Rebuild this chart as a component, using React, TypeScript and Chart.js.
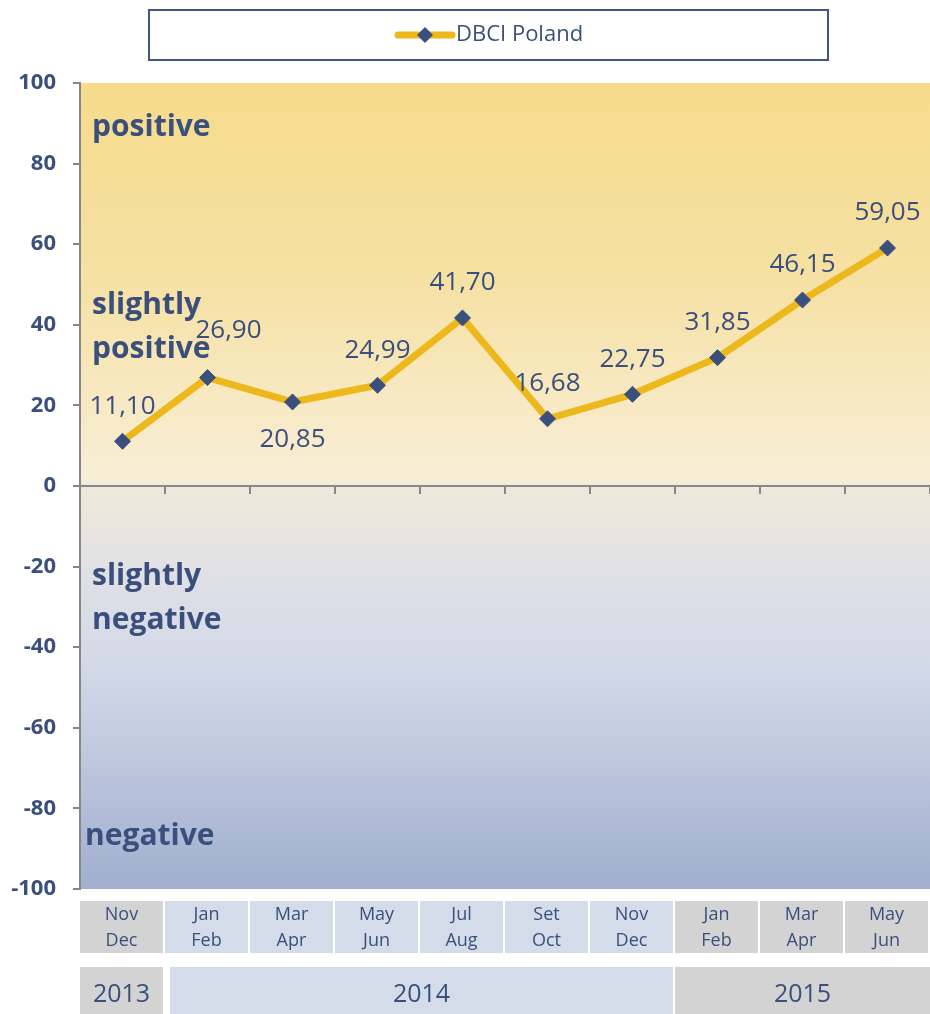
import React, { useEffect, useRef } from "react";
import { Chart, registerables } from "chart.js";

Chart.register(...registerables);

const SERIES_NAME = "DBCI Poland";
const MONTH_TOP = ["Nov", "Jan", "Mar", "May", "Jul", "Set", "Nov", "Jan", "Mar", "May"];
const MONTH_BOTTOM = ["Dec", "Feb", "Apr", "Jun", "Aug", "Oct", "Dec", "Feb", "Apr", "Jun"];
const CATEGORY_YEAR = ["2013", "2014", "2014", "2014", "2014", "2014", "2014", "2015", "2015", "2015"];
const YEARS = ["2013", "2014", "2015"];
const VALUES = [11.1, 26.9, 20.85, 24.99, 41.7, 16.68, 22.75, 31.85, 46.15, 59.05];
const Y_MIN = -100;
const Y_MAX = 100;
const Y_STEP = 20;
const ZONES = [
  { lines: ["positive"], at: 89 },
  { lines: ["slightly", "positive"], at: 39.3 },
  { lines: ["slightly", "negative"], at: -28 },
  { lines: ["negative"], at: -87 },
];

const NAVY = "#3b4f7d";
const YELLOW = "#edb81b";
const AXIS = "#878787";
const GREY_BOX = "#d3d3d4";
const BLUE_BOX = "#d4dbe9";
const FONT = "'Open Sans', 'Noto Sans', sans-serif";

const fmt = (v: number) => v.toFixed(2).replace(".", ",");

const decorPlugin = {
  id: "decor",
  beforeDraw(chart: any) {
    const { ctx, chartArea } = chart;
    const { left, right, top, bottom } = chartArea;
    const g = ctx.createLinearGradient(0, top, 0, bottom);
    g.addColorStop(0, "#f5db8b");
    g.addColorStop(0.25, "#f6e1a5");
    g.addColorStop(0.49, "#f8eed6");
    g.addColorStop(0.5, "#eee9da");
    g.addColorStop(0.62, "#dfe0e6");
    g.addColorStop(0.72, "#d3d9e8");
    g.addColorStop(1, "#a0afcf");
    ctx.save();
    ctx.fillStyle = g;
    ctx.fillRect(left, top, right - left, bottom - top);
    ctx.restore();
  },
  afterDraw(chart: any) {
    const { ctx, chartArea, scales } = chart;
    const x = scales.x;
    const y = scales.y;
    ctx.save();

    // legend box
    ctx.fillStyle = "#ffffff";
    ctx.fillRect(149, 10, 679, 50);
    ctx.strokeStyle = "#42577f";
    ctx.lineWidth = 2;
    ctx.strokeRect(149, 10, 679, 50);
    ctx.strokeStyle = YELLOW;
    ctx.lineWidth = 7;
    ctx.lineCap = "round";
    ctx.beginPath();
    ctx.moveTo(398, 35);
    ctx.lineTo(452, 35);
    ctx.stroke();
    ctx.fillStyle = NAVY;
    ctx.beginPath();
    ctx.moveTo(425, 27);
    ctx.lineTo(433, 35);
    ctx.lineTo(425, 43);
    ctx.lineTo(417, 35);
    ctx.closePath();
    ctx.fill();
    ctx.font = `22px ${FONT}`;
    ctx.textAlign = "left";
    ctx.textBaseline = "middle";
    ctx.fillText(SERIES_NAME, 456, 35);

    // zone labels
    ctx.font = `bold 30px ${FONT}`;
    ctx.fillStyle = NAVY;
    ZONES.forEach((z, zi) => {
      const cy = y.getPixelForValue(z.at);
      const lh = 44;
      const startY = cy - ((z.lines.length - 1) * lh) / 2;
      z.lines.forEach((t, i) => {
        ctx.fillText(t, chartArea.left + (zi === 3 ? 5 : 12), startY + i * lh);
      });
    });

    // category boxes
    const step = x.getPixelForValue(1) - x.getPixelForValue(0);
    const catTop = chartArea.bottom + 12;
    const catH = 52;
    ctx.textAlign = "center";
    ctx.font = `18px ${FONT}`;
    MONTH_TOP.forEach((m, i) => {
      const cx = x.getPixelForValue(i);
      const l = cx - step / 2;
      ctx.fillStyle = CATEGORY_YEAR[i] === "2014" ? BLUE_BOX : GREY_BOX;
      ctx.fillRect(l, catTop, step - 2, catH);
      ctx.fillStyle = NAVY;
      ctx.fillText(m, cx - 1, catTop + 14);
      ctx.fillText(MONTH_BOTTOM[i], cx - 1, catTop + 40);
    });

    // year boxes
    const yrTop = catTop + catH + 14;
    const yrH = 50;
    ctx.font = `25px ${FONT}`;
    YEARS.forEach((yr, k) => {
      const idx = CATEGORY_YEAR.map((c, i) => (c === yr ? i : -1)).filter((i) => i >= 0);
      const l = x.getPixelForValue(idx[0]) - step / 2 + (k === 1 ? 5 : 0);
      const r = x.getPixelForValue(idx[idx.length - 1]) + step / 2 - (k === 2 ? 0 : 2);
      ctx.fillStyle = yr === "2014" ? BLUE_BOX : GREY_BOX;
      ctx.fillRect(l, yrTop, r - l, yrH);
      ctx.fillStyle = NAVY;
      ctx.fillText(yr, (l + r) / 2, yrTop + 28);
    });

    ctx.restore();
  },
  afterDatasetsDraw(chart: any) {
    const { ctx } = chart;
    const meta = chart.getDatasetMeta(0);
    ctx.save();
    ctx.font = `26px ${FONT}`;
    ctx.fillStyle = NAVY;
    ctx.textAlign = "center";
    ctx.textBaseline = "middle";
    meta.data.forEach((pt: any, i: number) => {
      let dx = 0;
      let dy = -35;
      if (i === 2) dy = 38;
      if (i === 1) {
        dx = 21;
        dy = -47;
      }
      ctx.fillText(fmt(VALUES[i]), pt.x + dx, pt.y + dy);
    });
    ctx.restore();
  },
};

export default function App() {
  const ref = useRef<HTMLCanvasElement | null>(null);
  useEffect(() => {
    if (!ref.current) return;
    const chart = new Chart(ref.current, {
      type: "line",
      data: {
        labels: MONTH_TOP.map((m, i) => `${m} ${MONTH_BOTTOM[i]} ${CATEGORY_YEAR[i]}`),
        datasets: [
          {
            label: SERIES_NAME,
            data: VALUES,
            borderColor: YELLOW,
            borderWidth: 7,
            tension: 0,
            pointStyle: "rectRot",
            pointRadius: 8,
            pointBackgroundColor: NAVY,
            pointBorderColor: NAVY,
            pointBorderWidth: 1,
            borderJoinStyle: "round",
            borderCapStyle: "round",
          },
        ],
      },
      options: {
        responsive: false,
        animation: false,
        layout: { autoPadding: false, padding: { top: 83, bottom: 125, left: 0, right: 0 } },
        plugins: { legend: { display: false }, tooltip: { enabled: false } },
        scales: {
          x: {
            type: "category",
            offset: true,
            position: { y: 0 },
            ticks: { display: false },
            grid: {
              offset: true,
              drawOnChartArea: false,
              drawTicks: true,
              tickLength: 7,
              color: AXIS,
              lineWidth: 2,
            },
            border: { display: true, color: AXIS, width: 2 },
          },
          y: {
            min: Y_MIN,
            max: Y_MAX,
            afterFit: (s: any) => {
              s.width = 80;
            },
            ticks: {
              stepSize: Y_STEP,
              padding: 17,
              color: NAVY,
              font: { family: FONT, size: 22, weight: "bold" },
            },
            grid: {
              drawOnChartArea: false,
              drawTicks: true,
              tickLength: 7,
              color: AXIS,
              lineWidth: 2,
            },
            border: { display: true, color: AXIS, width: 2 },
          },
        },
      },
      plugins: [decorPlugin],
    } as any);
    return () => chart.destroy();
  }, []);
  return (
    <div style={{ position: "absolute", left: 0, top: 0, width: 930, height: 1014, background: "#fff" }}>
      <canvas ref={ref} width={930} height={1014} style={{ width: 930, height: 1014, display: "block" }} />
    </div>
  );
}
